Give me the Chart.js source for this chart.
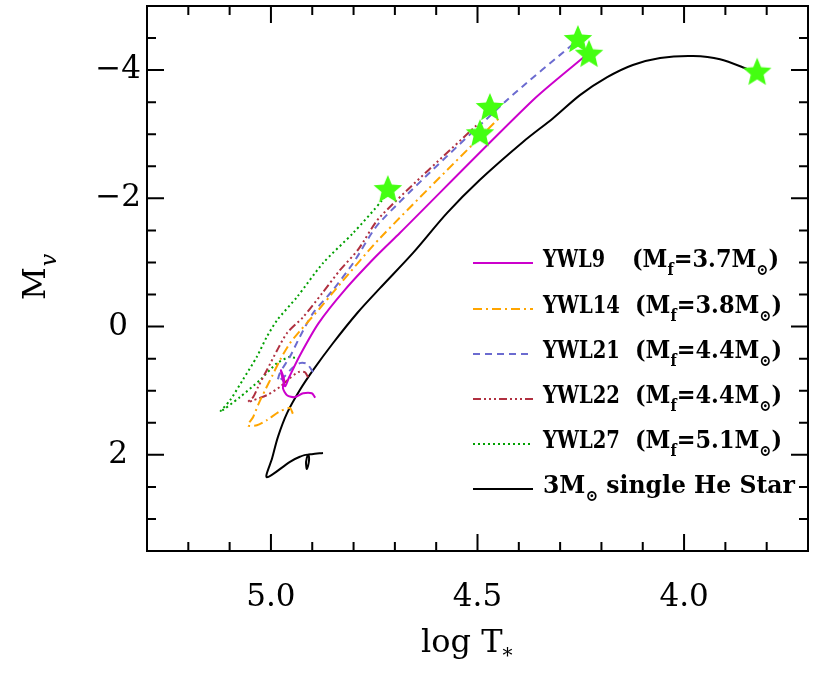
<!DOCTYPE html>
<html>
<head>
<meta charset="utf-8">
<script src="https://cdn.jsdelivr.net/npm/chart.js@4.4.1/dist/chart.umd.min.js"></script>
<style>
  body { margin: 0; background: #fff; }
  #c { display: block; }
</style>
</head>
<body>
<canvas id="c" width="830" height="692"></canvas>
<script>
// evolutionary tracks: log T* and M_v
const ywl9T = [4.893, 4.901, 4.922, 4.942, 4.961, 4.971, 4.968, 4.976, 4.966, 4.956, 4.930, 4.885, 4.820, 4.745, 4.688, 4.366, 4.230];
const ywl9M = [1.11, 1.04, 1.04, 1.10, 1.07, 0.96, 0.83, 0.68, 0.93, 0.79, 0.45, -0.05, -0.58, -1.10, -1.46, -3.53, -4.27];

const ywl14T = [4.947, 4.954, 4.978, 5.010, 5.034, 5.056, 5.043, 5.031, 5.014, 4.997, 4.978, 4.954, 4.930, 4.881, 4.845, 4.736, 4.445];
const ywl14M = [1.36, 1.27, 1.32, 1.46, 1.54, 1.54, 1.41, 1.22, 0.99, 0.77, 0.52, 0.26, 0.07, -0.29, -0.57, -1.38, -3.27];

const ywl21T = [4.898, 4.913, 4.930, 4.949, 4.966, 4.983, 4.978, 4.954, 4.930, 4.898, 4.850, 4.801, 4.736, 4.429, 4.257];
const ywl21M = [0.71, 0.58, 0.57, 0.65, 0.77, 0.85, 0.72, 0.47, 0.16, -0.21, -0.57, -0.99, -1.63, -3.53, -4.47];

const ywl22T = [4.910, 4.918, 4.934, 4.959, 4.978, 5.010, 5.043, 5.056, 5.043, 5.031, 5.010, 4.985, 4.961, 4.922, 4.876, 4.833, 4.789, 4.736, 4.499];
const ywl22M = [0.79, 0.71, 0.71, 0.83, 0.94, 1.07, 1.15, 1.18, 1.10, 0.94, 0.68, 0.37, 0.10, -0.15, -0.52, -0.88, -1.20, -1.71, -3.16];

const ywl27T = [4.942, 4.954, 4.985, 5.026, 5.075, 5.123, 5.099, 5.068, 5.034, 5.010, 4.985, 4.937, 4.874, 4.801, 4.731, 4.717];
const ywl27M = [0.49, 0.47, 0.57, 0.83, 1.10, 1.33, 1.15, 0.83, 0.47, 0.16, -0.10, -0.46, -0.99, -1.46, -1.97, -2.13];

// 3 Msun single He star
const heT = [4.874, 4.901, 4.910, 4.915, 4.913, 4.908, 4.910, 4.930, 4.954, 5.010, 4.997, 4.983, 4.961, 4.930, 4.898, 4.850, 4.790, 4.736, 4.656, 4.574, 4.494, 4.390, 4.317, 4.252, 4.186, 4.124, 4.058, 3.978, 3.913, 3.840, 3.823];
const heM = [1.97, 1.99, 2.00, 2.11, 2.22, 2.10, 2.00, 2.03, 2.11, 2.35, 2.05, 1.72, 1.35, 0.99, 0.68, 0.26, -0.22, -0.60, -1.15, -1.77, -2.29, -2.88, -3.25, -3.61, -3.89, -4.08, -4.19, -4.22, -4.17, -4.00, -3.96];

// green stars
const starT = [4.717, 4.494, 4.470, 4.257, 4.230, 3.823];
const starM = [-2.13, -3.00, -3.41, -4.47, -4.24, -3.96];

const xTicks = [4.0, 4.5, 5.0];
const yTicks = [-4, -2, 0, 2];

const names = ['YWL9', 'YWL14', 'YWL21', 'YWL22', 'YWL27'];
const finalMass = ['3.7', '3.8', '4.4', '4.4', '5.1'];
const colors = ['#cc00cc', '#ffa500', '#6b6bd0', '#b03040', '#00a000'];
const dashes = [[], [9, 4, 2, 4], [7, 5], [8, 3, 2, 3, 2, 3, 2, 3], [2, 3]];

function pts(xs, ys) {
  return xs.map((v, i) => ({ x: v, y: ys[i] }));
}

function makeStar(r, color) {
  const c = document.createElement('canvas');
  const s = Math.ceil(r * 2 + 2);
  c.width = s; c.height = s;
  const g = c.getContext('2d');
  g.fillStyle = color;
  g.beginPath();
  for (let i = 0; i < 10; i++) {
    const rad = i % 2 ? r * 0.45 : r;
    const ang = -Math.PI / 2 + i * Math.PI / 5;
    g.lineTo(s / 2 + rad * Math.cos(ang), s / 2 + rad * Math.sin(ang));
  }
  g.closePath();
  g.fill();
  return c;
}

const tracks = [
  [ywl9T, ywl9M], [ywl14T, ywl14M], [ywl21T, ywl21M], [ywl22T, ywl22M], [ywl27T, ywl27M]
];

const datasets = [{
  data: pts(starT, starM),
  showLine: false,
  pointStyle: makeStar(15, '#44ff11'),
  pointRadius: 15,
  order: 0
}];
tracks.forEach((t, i) => {
  datasets.push({
    data: pts(t[0], t[1]),
    showLine: true,
    borderColor: colors[i],
    borderWidth: 2,
    borderDash: dashes[i],
    pointRadius: 0,
    tension: 0.25,
    order: 1 + i
  });
});
datasets.push({
  data: pts(heT, heM),
  showLine: true,
  borderColor: '#000',
  borderWidth: 2,
  pointRadius: 0,
  tension: 0.3,
  order: 7
});

// draws text pieces (some as subscripts), squeezed so the run is `width` px wide
function richText(ctx, x, y, parts, size, width, weight) {
  const fontFor = p => (p.italic ? 'italic ' : '') + weight + ' ' +
    (p.sub ? Math.round(size * 0.62) : size) + 'px "DejaVu Serif"';
  let total = 0;
  parts.forEach(p => { ctx.font = fontFor(p); total += ctx.measureText(p.t).width; });
  const sx = width ? width / total : 1;
  ctx.save();
  ctx.translate(x, y);
  ctx.scale(sx, 1);
  let cx = 0;
  parts.forEach(p => {
    ctx.font = fontFor(p);
    ctx.fillText(p.t, cx, p.sub ? size * 0.3 : 0);
    cx += ctx.measureText(p.t).width;
  });
  ctx.restore();
}

const frameTicks = {
  id: 'frameTicks',
  afterDatasetsDraw(chart) {
    const { ctx, chartArea: a, scales: { x, y } } = chart;
    ctx.save();
    ctx.strokeStyle = '#000';
    ctx.lineWidth = 2;
    ctx.setLineDash([]);
    ctx.strokeRect(a.left, a.top, a.right - a.left, a.bottom - a.top);
    ctx.beginPath();
    for (let k = 37; k <= 53; k++) {
      const px = x.getPixelForValue(k / 10);
      const len = k % 5 === 0 ? 17 : 9;
      ctx.moveTo(px, a.bottom); ctx.lineTo(px, a.bottom - len);
      ctx.moveTo(px, a.top); ctx.lineTo(px, a.top + len);
    }
    for (let k = -10; k <= 7; k++) {
      const py = y.getPixelForValue(k / 2);
      const len = k % 4 === 0 ? 17 : 9;
      ctx.moveTo(a.left, py); ctx.lineTo(a.left + len, py);
      ctx.moveTo(a.right, py); ctx.lineTo(a.right - len, py);
    }
    ctx.stroke();
    ctx.restore();
  }
};

const legendAndTitles = {
  id: 'legendAndTitles',
  afterDraw(chart) {
    const ctx = chart.ctx;
    ctx.save();
    ctx.fillStyle = '#000';
    ctx.textBaseline = 'alphabetic';
    ctx.textAlign = 'left';

    // legend
    const size = 25;
    const rowY = [263, 309, 354, 399, 444, 489];
    const nameW = [62, 77, 77, 77, 77];
    for (let i = 0; i < 6; i++) {
      ctx.save();
      ctx.lineWidth = 2;
      ctx.strokeStyle = i < 5 ? colors[i] : '#000';
      ctx.setLineDash(i < 5 ? dashes[i] : []);
      ctx.beginPath();
      ctx.moveTo(473, rowY[i]);
      ctx.lineTo(533, rowY[i]);
      ctx.stroke();
      ctx.restore();
      if (i < 5) {
        richText(ctx, 543, rowY[i] + 4, [{ t: names[i] }], size, nameW[i], 'bold');
        richText(ctx, i === 0 ? 632 : 635, rowY[i] + 4, [
          { t: '(M' }, { t: 'f', sub: true }, { t: '=' + finalMass[i] + 'M' }, { t: '\u2299', sub: true }, { t: ')' }
        ], size, 147, 'bold');
      } else {
        richText(ctx, 543, rowY[i] + 4, [
          { t: '3M' }, { t: '\u2299', sub: true }, { t: ' single He Star' }
        ], size, 252, 'bold');
      }
    }

    // x title
    richText(ctx, 421, 652, [{ t: 'log T' }, { t: '*', sub: true }], 32, 0, 'normal');

    // y title
    ctx.save();
    ctx.translate(45, 300);
    ctx.rotate(-Math.PI / 2);
    ctx.font = 'normal 32px "DejaVu Serif"';
    ctx.fillText('M', 0, 0);
    const mw = ctx.measureText('M').width;
    ctx.font = 'italic 22px "DejaVu Serif"';
    ctx.fillText('v', mw + 1, 11);
    ctx.restore();

    ctx.restore();
  }
};

new Chart('c', {
  type: 'scatter',
  data: { datasets: datasets },
  options: {
    responsive: false,
    animation: false,
    layout: { autoPadding: false, padding: { top: 6, right: 22, left: 0, bottom: 0 } },
    plugins: { legend: { display: false }, tooltip: { enabled: false } },
    scales: {
      x: {
        type: 'linear',
        min: 3.7,
        max: 5.3,
        reverse: true,
        grid: { display: false, drawTicks: false },
        border: { display: false },
        afterBuildTicks: s => { s.ticks = xTicks.map(v => ({ value: v })); },
        afterFit: s => { s.height = 141; s.paddingLeft = 0; s.paddingRight = 0; },
        ticks: {
          color: '#000',
          padding: 28,
          maxRotation: 0,
          font: { family: 'DejaVu Serif', size: 31 },
          callback: v => v.toFixed(1)
        }
      },
      y: {
        type: 'linear',
        min: -5,
        max: 3.5,
        reverse: true,
        grid: { display: false, drawTicks: false },
        border: { display: false },
        afterBuildTicks: s => { s.ticks = yTicks.map(v => ({ value: v })); },
        afterFit: s => { s.width = 147; s.paddingTop = 0; s.paddingBottom = 0; },
        ticks: {
          color: '#000',
          padding: 6,
          crossAlign: 'center',
          font: { family: 'DejaVu Serif', size: 31 },
          callback: v => (v < 0 ? '\u2212' + (-v) : String(v))
        }
      }
    }
  },
  plugins: [frameTicks, legendAndTitles]
});
</script>
</body>
</html>
